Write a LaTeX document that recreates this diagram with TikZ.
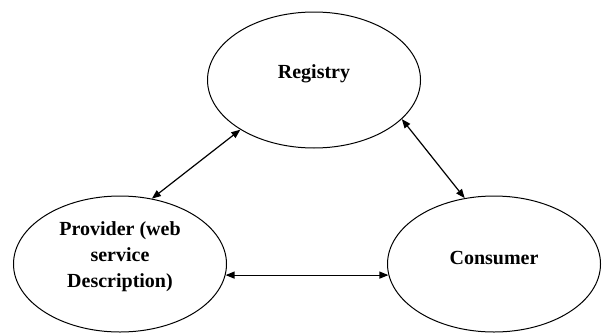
\documentclass[tikz,border=0pt]{standalone}
\usepackage{fontspec}
\setmainfont{Liberation Serif}
\usetikzlibrary{positioning, arrows.meta, shapes.geometric}

\begin{document}
\begin{tikzpicture}[x=0.5pt,y=-0.5pt,font=\fontsize{10}{13}\selectfont\bfseries,
  party/.style={draw, ellipse, line width=0.5pt, minimum width=106.5pt, minimum height=68pt, inner sep=0pt},
  roletext/.style={text centered, align=center},
  link/.style={{Triangle[length=4.5pt,width=3.5pt]}-{Triangle[length=4.5pt,width=3.5pt]}, line width=0.6pt}]

\useasboundingbox (0,0) rectangle (603,332);

% Entities
\node[party] (registry) at (314,80) {};
\node[party] (provider) at (120,264) {};
\node[party] (consumer) at (494,264) {};

% Names
\node[roletext, yshift=3pt] (regname) at (registry.center) {Registry};
\node[roletext, yshift=3.5pt] (provname) at (provider.center) {Provider (web\\service\\Description)};
\node[roletext, yshift=3pt] (consname) at (consumer.center) {Consumer};

% Interactions
\draw[link] (provider.64) -- (registry.214);
\draw[link] (registry.336) -- (consumer.114);
\draw[link] (provider.-6.5) -- (consumer.186.5);

\end{tikzpicture}
\end{document}
